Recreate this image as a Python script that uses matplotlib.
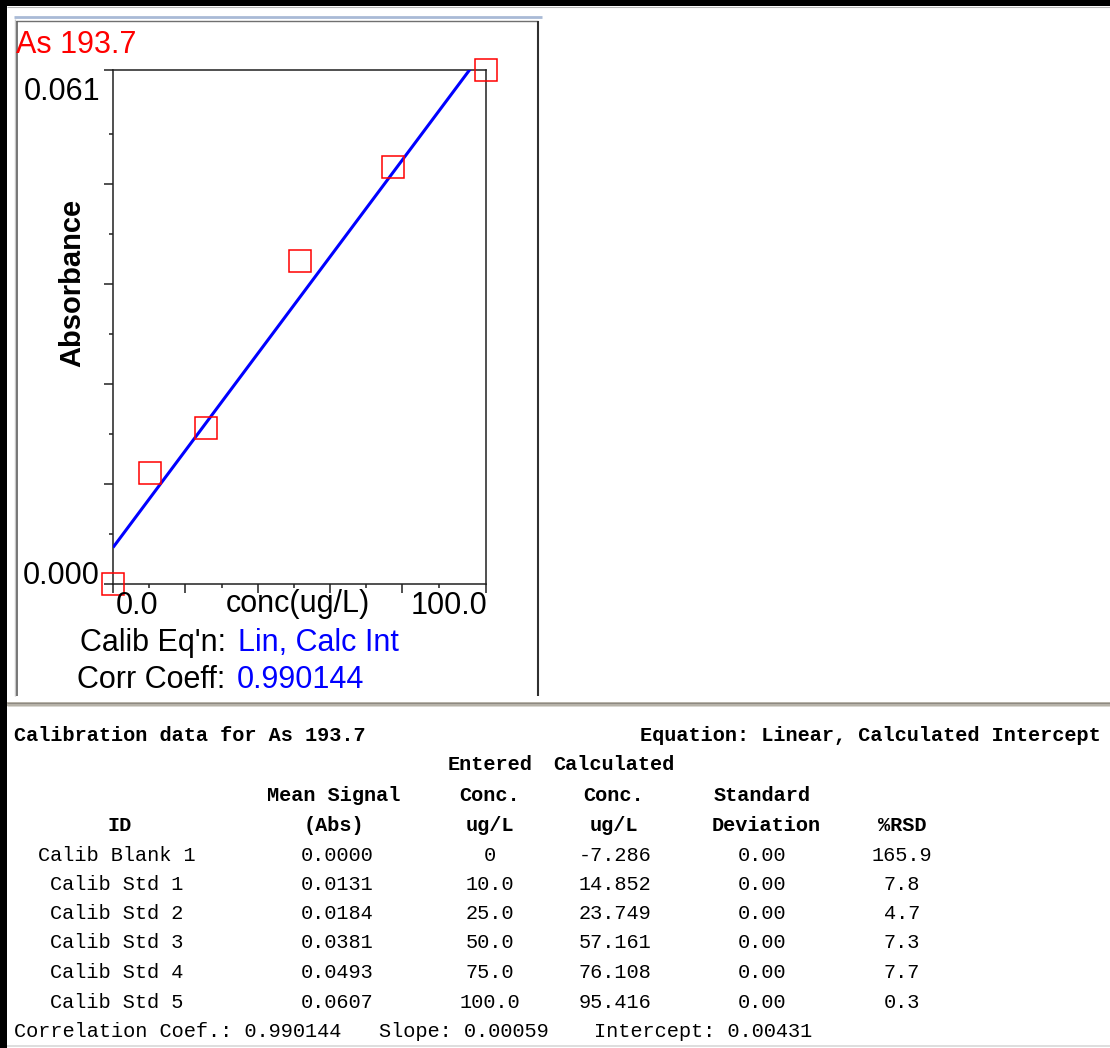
import matplotlib
matplotlib.use("Agg")
import matplotlib.pyplot as plt
from matplotlib.lines import Line2D
from matplotlib.patches import Rectangle

W, H, DPI = 1110, 1048, 100

# ---------------- data ----------------
element = "As 193.7"
ids = ["Calib Blank 1", "Calib Std 1", "Calib Std 2", "Calib Std 3", "Calib Std 4", "Calib Std 5"]
entered_conc = [0, 10.0, 25.0, 50.0, 75.0, 100.0]
entered_labels = ["0", "10.0", "25.0", "50.0", "75.0", "100.0"]
mean_signal = [0.0000, 0.0131, 0.0184, 0.0381, 0.0493, 0.0607]
calc_conc = [-7.286, 14.852, 23.749, 57.161, 76.108, 95.416]
std_dev = [0.00, 0.00, 0.00, 0.00, 0.00, 0.00]
rsd = [165.9, 7.8, 4.7, 7.3, 7.7, 0.3]
corr_coeff = "0.990144"
slope = 0.00059
intercept = 0.00431
x_range = [0.0, 100.0]
y_range = [0.0, 0.0607]
x_major_ticks = [0.0, 19.4, 38.8, 58.2, 77.6, 100.0]
x_minor_ticks = [9.7, 29.1, 48.5, 67.9, 87.3]
y_major_ticks = [0.0, 0.0118, 0.0236, 0.0354, 0.0472, 0.0607]
y_minor_ticks = [0.0059, 0.0177, 0.0295, 0.0413, 0.0531]
y_tick_text = ["0.000", "0.061"]
x_tick_text = ["0.0", "100.0"]

fig = plt.figure(figsize=(W / DPI, H / DPI), dpi=DPI)
fig.patch.set_facecolor("white")

def fx(x):
    return x / W

def fy(y):
    return 1 - y / H

def hline(y, x0, x1, color, lw):
    fig.add_artist(Line2D([fx(x0), fx(x1)], [fy(y), fy(y)], color=color, lw=lw,
                          transform=fig.transFigure, solid_capstyle="butt"))

def vline(x, y0, y1, color, lw):
    fig.add_artist(Line2D([fx(x), fx(x)], [fy(y0), fy(y1)], color=color, lw=lw,
                          transform=fig.transFigure, solid_capstyle="butt"))

# ---------------- window decorations ----------------
fig.add_artist(Rectangle((0, fy(6)), 1, 6 / H, transform=fig.transFigure, color="black", lw=0))
fig.add_artist(Rectangle((0, 0), fx(7), 1, transform=fig.transFigure, color="black", lw=0))
hline(7, 7, W, "#b8b8b8", 0.8)
hline(17, 14, 542, "#a9bad6", 2.0)
hline(21, 16, 538, "#707070", 1.0)
vline(15, 19, 696, "#c8c8c8", 1.0)
vline(17, 21, 696, "#606060", 1.2)
vline(538, 21, 696, "#303030", 1.5)
fig.add_artist(Rectangle((fx(7), fy(706)), 1, 4 / H, transform=fig.transFigure,
                         facecolor="#b6b2a8", edgecolor="none"))
hline(702.5, 7, W, "#8c8880", 0.7)
hline(706, 7, W, "#d8d6d0", 0.7)
hline(1046, 7, W, "#d8d8d8", 1.2)

# ---------------- chart ----------------
ax = fig.add_axes([fx(113), fy(584), (486 - 113) / W, (584 - 70) / H])
ax.set_xlim(*x_range)
ax.set_ylim(*y_range)
ax.set_xticks(x_major_ticks)
ax.set_xticks(x_minor_ticks, minor=True)
ax.set_yticks(y_major_ticks)
ax.set_yticks(y_minor_ticks, minor=True)
ax.tick_params(which="both", direction="out", width=1.1, color="#202020",
               labelbottom=False, labelleft=False)
ax.tick_params(which="major", length=6.5)
ax.tick_params(which="minor", length=3.0)
for s in ax.spines.values():
    s.set_linewidth(1.1)
    s.set_color("#202020")

x_fit = list(x_range)
y_fit = [intercept + slope * v for v in x_fit]
ax.plot(x_fit, y_fit, color="#0000ff", lw=2.2, solid_capstyle="butt", zorder=3)
ax.plot(entered_conc, mean_signal, "s", ms=15.8, mfc="none", mec="#ff0000",
        mew=1.1, clip_on=False, zorder=5)

sans = "Liberation Sans"
fs = 22
fig.text(fx(16), fy(53), element, color="#ff0000", fontsize=fs, family=sans,
         ha="left", va="baseline")
fig.text(fx(100), fy(100), y_tick_text[1], color="black", fontsize=fs, family=sans,
         ha="right", va="baseline")
fig.text(fx(100), fy(584), y_tick_text[0], color="black", fontsize=fs, family=sans,
         ha="right", va="baseline")
fig.text(fx(116), fy(614), x_tick_text[0], color="black", fontsize=fs, family=sans,
         ha="left", va="baseline")
fig.text(fx(487), fy(614), x_tick_text[1], color="black", fontsize=fs, family=sans,
         ha="right", va="baseline")
fig.text(fx(298), fy(612), "conc(ug/L)", color="black", fontsize=fs, family=sans,
         ha="center", va="baseline")
fig.text(fx(72), fy(283), "Absorbance", color="black", fontsize=21, family=sans,
         weight="bold", rotation=90, ha="center", va="center")

t1 = fig.text(fx(80), fy(651), "Calib Eq'n: ", color="black", fontsize=fs, family=sans,
              ha="left", va="baseline")
fig.text(fx(238), fy(651), "Lin, Calc Int", color="#0000ff", fontsize=fs, family=sans,
         ha="left", va="baseline")
fig.text(fx(77), fy(688), "Corr Coeff: ", color="black", fontsize=fs, family=sans,
         ha="left", va="baseline")
fig.text(fx(237), fy(688), corr_coeff, color="#0000ff", fontsize=fs, family=sans,
         ha="left", va="baseline")

# ---------------- table ----------------
mono = "Liberation Mono"
tfs = 14.6

def ttext(x, yc, s, ha="center", bold=True):
    fig.text(fx(x), fy(yc + 6), s, color="black", fontsize=tfs, family=mono,
             weight="bold" if bold else "normal", ha=ha, va="baseline")

ttext(14, 735, "Calibration data for " + element, ha="left")
ttext(1101, 735, "Equation: Linear, Calculated Intercept", ha="right")
ttext(490, 764, "Entered")
ttext(614, 764, "Calculated")
ttext(334, 795, "Mean Signal")
ttext(490, 795, "Conc.")
ttext(614, 795, "Conc.")
ttext(762, 795, "Standard")
ttext(120, 825, "ID")
ttext(334, 825, "(Abs)")
ttext(490, 825, "ug/L")
ttext(614, 825, "ug/L")
ttext(766, 825, "Deviation")
ttext(902, 825, "%RSD")

row_y = [855, 884, 913, 942, 972, 1002]
for i, yc in enumerate(row_y):
    ttext(117, yc, ids[i], bold=False)
    ttext(337, yc, f"{mean_signal[i]:.4f}", bold=False)
    ttext(490, yc, entered_labels[i], bold=False)
    ttext(615, yc, f"{calc_conc[i]:.3f}", bold=False)
    ttext(762, yc, f"{std_dev[i]:.2f}", bold=False)
    ttext(902, yc, f"{rsd[i]:.1f}", bold=False)

ttext(14, 1031, "Correlation Coef.: " + corr_coeff, ha="left", bold=False)
ttext(379, 1031, f"Slope: {slope:.5f}", ha="left", bold=False)
ttext(594, 1031, f"Intercept: {intercept:.5f}", ha="left", bold=False)

fig.savefig("out.png", dpi=DPI, facecolor="white")
